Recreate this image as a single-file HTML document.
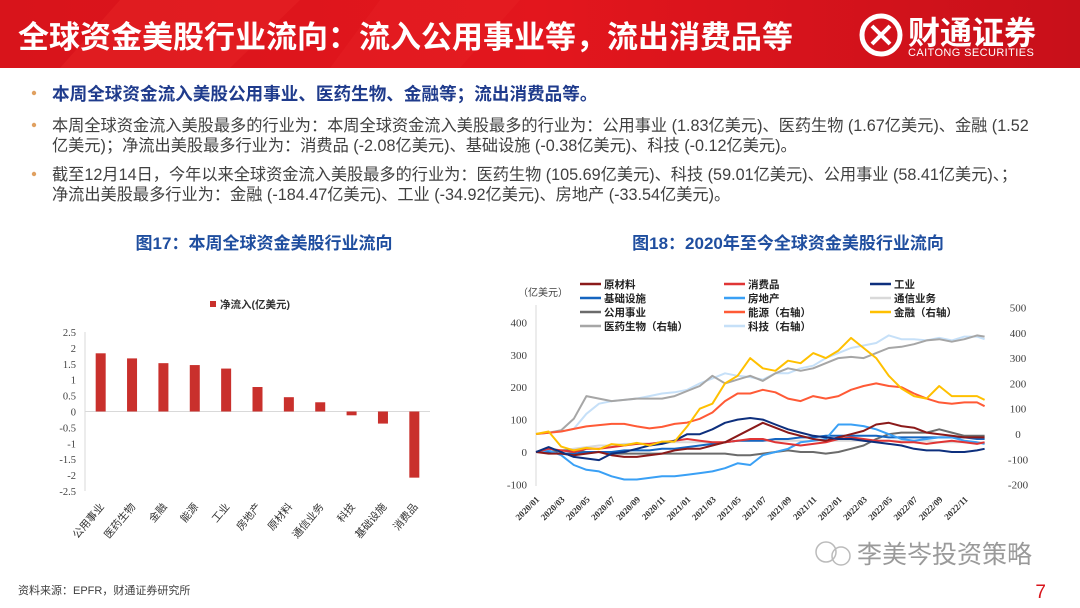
<!DOCTYPE html>
<html><head><meta charset="utf-8">
<style>
html,body{margin:0;padding:0;background:#fff;}
svg{display:block;font-family:"Liberation Sans","Noto Sans CJK SC",sans-serif;}
.serif{font-family:"Liberation Serif","Noto Serif CJK SC",serif;}
</style></head>
<body>
<svg id="page" width="1080" height="608" viewBox="0 0 1080 608">
<defs>
<linearGradient id="hdr" x1="0" x2="1" y1="0" y2="0">
<stop offset="0" stop-color="#d8141b"/><stop offset="0.5" stop-color="#e3161d"/><stop offset="1" stop-color="#c8101a"/>
</linearGradient>
</defs>
<g>
<rect x="0" y="0" width="1080" height="68" fill="url(#hdr)"/>
<polygon points="120,0 300,0 230,68 60,68" fill="#ea2a2a" opacity="0.35"/>
<polygon points="380,0 520,0 460,68 330,68" fill="#ea2a2a" opacity="0.25"/>
<text x="18" y="48" font-size="31" font-weight="bold" fill="#fff">全球资金美股行业流向：流入公用事业等，流出消费品等</text>
<g>
<circle cx="881" cy="35" r="19" fill="none" stroke="#fff" stroke-width="5"/>
<path d="M872 26 L890 44 M890 26 L872 44" stroke="#fff" stroke-width="4"/>
<text x="908" y="44" font-size="32" font-weight="bold" fill="#fff">财通证券</text>
<text x="908" y="56" font-size="11" fill="#fff" letter-spacing="0.4">CAITONG SECURITIES</text>
</g>
</g>
<g font-size="16.2">
<circle cx="34" cy="93" r="2.2" fill="#e0a060"/>
<text x="52" y="100" font-weight="bold" fill="#1f3b8c" font-size="17.6">本周全球资金流入美股公用事业、医药生物、金融等；流出消费品等。</text>
<circle cx="34" cy="125" r="2.2" fill="#e0a060"/>
<text x="52" y="131" fill="#404040">本周全球资金流入美股最多的行业为：本周全球资金流入美股最多的行业为：公用事业 (1.83亿美元)、医药生物 (1.67亿美元)、金融 (1.52</text>
<text x="52" y="151" fill="#404040">亿美元)；净流出美股最多行业为：消费品 (-2.08亿美元)、基础设施 (-0.38亿美元)、科技 (-0.12亿美元)。</text>
<circle cx="34" cy="174" r="2.2" fill="#e0a060"/>
<text x="52" y="180" fill="#404040">截至12月14日，今年以来全球资金流入美股最多的行业为：医药生物 (105.69亿美元)、科技 (59.01亿美元)、公用事业 (58.41亿美元)、；</text>
<text x="52" y="200" fill="#404040">净流出美股最多行业为：金融 (-184.47亿美元)、工业 (-34.92亿美元)、房地产 (-33.54亿美元)。</text>
</g>
<text x="264" y="249" text-anchor="middle" font-size="17" font-weight="bold" fill="#1f4e9f">图17：本周全球资金美股行业流向</text>
<text x="788" y="249" text-anchor="middle" font-size="17" font-weight="bold" fill="#1f4e9f">图18：2020年至今全球资金美股行业流向</text>
<g id="bar-chart"></g>
<g id="line-chart"></g>
<g>
<circle cx="826" cy="552" r="10" fill="none" stroke="#bbb" stroke-width="1.5"/>
<circle cx="841" cy="556" r="9" fill="none" stroke="#bbb" stroke-width="1.5"/>
<text x="857" y="563" font-size="25" fill="#9a9a9a">李美岑投资策略</text>
</g>
<text x="18" y="594" font-size="11" fill="#404040">资料来源：EPFR，财通证券研究所</text>
<text x="1046" y="598" text-anchor="end" font-size="19" fill="#d8141b">7</text>
</svg>
<script>
const NS="http://www.w3.org/2000/svg";
function mk(tag,attrs,parent,txt){const e=document.createElementNS(NS,tag);for(const k in attrs)e.setAttribute(k,attrs[k]);if(txt!==undefined)e.textContent=txt;parent.appendChild(e);return e;}

// ---- Bar chart data ----
const barCategories=["公用事业","医药生物","金融","能源","工业","房地产","原材料","通信业务","科技","基础设施","消费品"];
const barValues=[1.83,1.67,1.52,1.46,1.35,0.77,0.45,0.29,-0.12,-0.38,-2.08];
const barTicks=[2.5,2,1.5,1,0.5,0,-0.5,-1,-1.5,-2,-2.5];

// ---- Line chart data (monthly, 2020/01 .. 2022/12) ----
const xTickLabels=["2020/01","2020/03","2020/05","2020/07","2020/09","2020/11","2021/01","2021/03","2021/05","2021/07","2021/09","2021/11","2022/01","2022/03","2022/05","2022/07","2022/09","2022/11"];
const leftTicks=[400,300,200,100,0,-100];
const rightTicks=[500,400,300,200,100,0,-100,-200];
const sMaterials=[0,-5,-5,-10,-5,0,-10,-15,-15,-10,-5,5,10,10,20,30,50,70,90,75,60,50,40,35,45,55,65,85,90,80,75,60,55,50,45,45,45];
const sConsumer=[0,10,5,0,10,10,15,20,25,25,30,35,40,35,30,30,35,40,40,30,25,20,25,30,40,45,40,35,35,30,30,25,30,35,30,25,30];
const sIndustrial=[0,15,0,-15,-20,-25,-5,0,10,20,25,35,55,55,70,90,100,105,100,85,70,60,50,45,40,40,35,30,25,20,10,5,5,0,0,5,10];
const sInfra=[0,0,-5,-5,0,0,0,5,5,5,10,10,15,20,25,30,35,35,35,40,40,45,45,50,50,50,50,50,45,45,45,45,45,45,45,40,40];
const sRealEstate=[0,5,-10,-40,-55,-60,-75,-85,-85,-80,-75,-75,-70,-65,-60,-50,-35,-40,-10,0,10,30,35,40,85,85,80,70,55,40,35,40,45,45,35,30,25];
const sTelecom=[0,0,5,10,15,20,20,25,25,25,30,30,30,30,30,30,35,35,35,35,35,35,35,35,35,35,35,35,35,35,35,35,30,30,30,30,30];
const sUtilities=[0,0,5,5,0,0,-5,-5,-5,-5,-5,-5,-5,-5,-5,-5,-10,-10,-5,0,5,0,0,-5,0,10,20,40,55,60,60,60,70,60,50,50,50];
const sEnergy=[0,5,10,20,30,35,40,40,30,22,28,40,45,60,85,130,160,160,175,165,140,130,150,140,150,175,190,200,190,185,160,140,125,120,125,125,110];
const sFinance=[0,10,-50,-65,-55,-60,-40,-45,-35,-45,-30,-30,30,100,120,200,230,300,260,250,290,280,320,300,330,380,340,300,230,180,150,140,190,150,150,150,135];
const sHealth=[0,5,15,60,150,140,130,135,140,140,140,150,170,190,230,200,215,230,210,240,260,250,260,280,300,305,300,320,340,345,355,370,375,365,375,390,385];
const sTech=[0,5,10,20,80,120,130,135,140,150,160,165,175,200,220,240,230,225,215,240,240,260,270,300,320,340,350,360,390,375,375,370,380,370,385,385,375];

// ---- Bar chart ----
(function(){
  const g=document.getElementById('bar-chart');
  const x0=85,x1=430,yTop=332,yBot=491,vMax=2.5,vMin=-2.5;
  const y=v=>yTop+(vMax-v)/(vMax-vMin)*(yBot-yTop);
  const step=(x1-x0)/barCategories.length;
  const xc=i=>x0+step*(i+0.5);
  const ax=mk('line',{x1:x0,y1:yTop,x2:x0,y2:yBot,stroke:'#d9d9d9'},g);
  
  
  barTicks.forEach(t=>{
    const tx=mk('text',{x:x0-9,y:y(t)+4,'text-anchor':'end','font-size':10.5,fill:'#404040',class:'serif'},g,String(t));
    
    
  });
  const zl=mk('line',{x1:x0,y1:y(0),x2:x1,y2:y(0),stroke:'#d9d9d9'},g);
  
  
  barValues.forEach((v,i)=>{
    const r=mk('rect',{x:xc(i)-5,y:Math.min(y(v),y(0)),width:10,height:Math.abs(y(v)-y(0)),fill:'#c9302c'},g);
    
    
    const tx=xc(i)+4,ty=y(vMin)+16;
    const t=mk('text',{x:tx,y:ty,'text-anchor':'end','font-size':10.5,fill:'#333',transform:`rotate(-50 ${tx} ${ty})`},g,barCategories[i]);
    
    
  });
  const lg=mk('rect',{x:210,y:301,width:6,height:6,fill:'#c9302c'},g);
  
  
  const lt=mk('text',{x:220,y:308,'font-size':10.5,'font-weight':'bold',fill:'#333'},g,'净流入(亿美元)');
  
  
})();

// ---- Line chart ----
(function(){
  const g=document.getElementById('line-chart');
  const px0=536,monthW=12.6;
  const x=i=>px0+i*monthW;
  const yL=v=>452-v*0.324;
  const yR=v=>434-v*(177/700);
  const ax=mk('line',{x1:px0,y1:305,x2:px0,y2:486,stroke:'#d9d9d9'},g);
  
  
  leftTicks.forEach(t=>{
    const e=mk('text',{x:527,y:yL(t)+4,'text-anchor':'end','font-size':11,fill:'#404040',class:'serif'},g,String(t));
    
    
  });
  rightTicks.forEach(t=>{
    const e=mk('text',{x:1018,y:yR(t)+4,'text-anchor':'middle','font-size':11,fill:'#404040',class:'serif'},g,String(t));
    
    
  });
  const u=mk('text',{x:518,y:296,'font-size':10,fill:'#404040'},g,'（亿美元）');
  
  
  xTickLabels.forEach((l,i)=>{
    const xx=x(i*2)+4,yy=500;
    const e=mk('text',{x:xx,y:yy,'text-anchor':'end','font-size':9,'font-weight':'bold',fill:'#333',class:'serif',transform:`rotate(-45 ${xx} ${yy})`},g,l);
    
    
  });
  const series=[
    {n:'通信业务',d:sTelecom,c:'#d9d9d9',ax:'L'},
    {n:'科技（右轴）',d:sTech,c:'#c6e0f8',ax:'R'},
    {n:'医药生物（右轴）',d:sHealth,c:'#a6a6a6',ax:'R'},
    {n:'公用事业',d:sUtilities,c:'#6b6b6b',ax:'L'},
    {n:'基础设施',d:sInfra,c:'#1565c0',ax:'L'},
    {n:'房地产',d:sRealEstate,c:'#3aa0f5',ax:'L'},
    {n:'消费品',d:sConsumer,c:'#e03535',ax:'L'},
    {n:'原材料',d:sMaterials,c:'#8b1a1a',ax:'L'},
    {n:'工业',d:sIndustrial,c:'#0d2f7d',ax:'L'},
    {n:'能源（右轴）',d:sEnergy,c:'#ff5a36',ax:'R'},
    {n:'金融（右轴）',d:sFinance,c:'#ffc000',ax:'R'}
  ];
  series.forEach(s=>{
    const yf=s.ax==='L'?yL:yR;
    const pts=s.d.map((v,i)=>x(Math.min(i,35.6)).toFixed(1)+','+yf(v).toFixed(1)).join(' ');
    const p=mk('polyline',{points:pts,fill:'none',stroke:s.c,'stroke-width':2,'stroke-linejoin':'round'},g);
    
    
  });
  const legend=[
    ['原材料','#8b1a1a'],['消费品','#e03535'],['工业','#0d2f7d'],
    ['基础设施','#1565c0'],['房地产','#3aa0f5'],['通信业务','#d9d9d9'],
    ['公用事业','#6b6b6b'],['能源（右轴）','#ff5a36'],['金融（右轴）','#ffc000'],
    ['医药生物（右轴）','#a6a6a6'],['科技（右轴）','#c6e0f8']
  ];
  const cols=[580,724,870];
  legend.forEach((l,i)=>{
    const cx=cols[i%3],cy=284+Math.floor(i/3)*14;
    const ln=mk('line',{x1:cx,y1:cy,x2:cx+21,y2:cy,stroke:l[1],'stroke-width':2.5},g);
    
    
    const t=mk('text',{x:cx+24,y:cy+4,'font-size':10.5,'font-weight':'bold',fill:'#222'},g,l[0]);
    
    
  });
})();
</script>
</body></html>
